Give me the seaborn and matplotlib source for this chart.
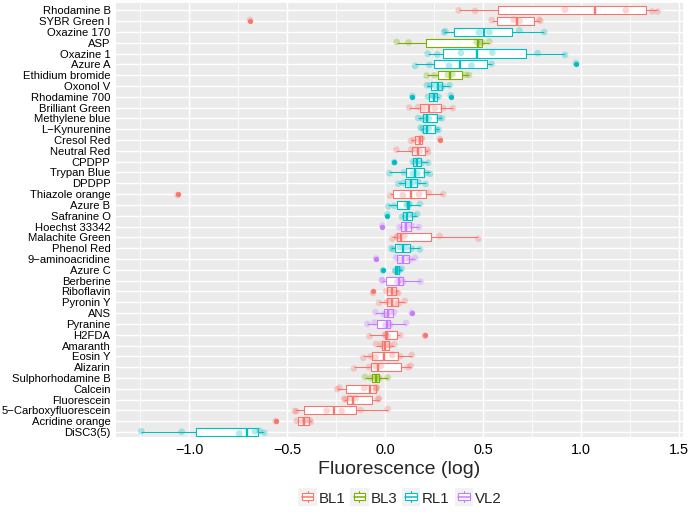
import numpy as np
import pandas as pd
import matplotlib
matplotlib.use("Agg")
import matplotlib.pyplot as plt
import seaborn as sns
from matplotlib.patches import Patch, Rectangle
from matplotlib.lines import Line2D

# dyes, top to bottom, with the detection channel of each
dyes = [
    "Rhodamine B", "SYBR Green I", "Oxazine 170", "ASP", "Oxazine 1",
    "Azure A", "Ethidium bromide", "Oxonol V", "Rhodamine 700",
    "Brilliant Green", "Methylene blue", "L\u2212Kynurenine", "Cresol Red",
    "Neutral Red", "CPDPP", "Trypan Blue", "DPDPP", "Thiazole orange",
    "Azure B", "Safranine O", "Hoechst 33342", "Malachite Green",
    "Phenol Red", "9\u2212aminoacridine", "Azure C", "Berberine",
    "Riboflavin", "Pyronin Y", "ANS", "Pyranine", "H2FDA", "Amaranth",
    "Eosin Y", "Alizarin", "Sulphorhodamine B", "Calcein", "Fluorescein",
    "5\u2212Carboxyfluorescein", "Acridine orange", "DiSC3(5)",
]
channels = [
    "BL1", "BL1", "RL1", "BL3", "RL1", "RL1", "BL3", "RL1", "RL1", "BL1",
    "RL1", "RL1", "BL1", "BL1", "RL1", "RL1", "RL1", "BL1", "RL1", "RL1",
    "VL2", "BL1", "RL1", "VL2", "RL1", "VL2", "BL1", "BL1", "VL2", "VL2",
    "BL1", "BL1", "BL1", "BL1", "BL3", "BL1", "BL1", "BL1", "BL1", "RL1",
]
# six replicate log-fluorescence readings per dye
values = [
    [0.374, 0.458, 0.917, 1.227, 1.362, 1.390],
    [-0.690, 0.543, 0.655, 0.685, 0.785, 0.791],
    [0.300, 0.306, 0.478, 0.531, 0.684, 0.811],
    [0.058, 0.119, 0.466, 0.484, 0.495, 0.531],
    [0.216, 0.265, 0.386, 0.546, 0.777, 0.917],
    [0.152, 0.225, 0.325, 0.439, 0.543, 0.973],
    [0.211, 0.250, 0.318, 0.342, 0.410, 0.427],
    [0.212, 0.228, 0.255, 0.282, 0.293, 0.328],
    [0.138, 0.218, 0.243, 0.249, 0.272, 0.334],
    [0.122, 0.168, 0.196, 0.252, 0.295, 0.345],
    [0.167, 0.190, 0.205, 0.222, 0.275, 0.290],
    [0.180, 0.188, 0.200, 0.222, 0.262, 0.272],
    [0.130, 0.145, 0.168, 0.182, 0.187, 0.279],
    [0.057, 0.133, 0.155, 0.175, 0.215, 0.219],
    [0.046, 0.140, 0.152, 0.168, 0.186, 0.219],
    [0.021, 0.095, 0.140, 0.164, 0.208, 0.228],
    [0.066, 0.092, 0.120, 0.142, 0.170, 0.206],
    [-1.059, 0.024, 0.090, 0.172, 0.221, 0.296],
    [0.015, 0.045, 0.108, 0.120, 0.123, 0.177],
    [0.010, 0.085, 0.100, 0.124, 0.143, 0.163],
    [-0.015, 0.072, 0.095, 0.115, 0.135, 0.172],
    [0.036, 0.060, 0.062, 0.098, 0.277, 0.475],
    [0.030, 0.040, 0.075, 0.105, 0.135, 0.177],
    [-0.047, 0.055, 0.080, 0.104, 0.128, 0.152],
    [-0.012, 0.050, 0.054, 0.068, 0.072, 0.084],
    [-0.018, -0.014, 0.062, 0.080, 0.092, 0.180],
    [-0.063, 0.005, 0.025, 0.041, 0.057, 0.066],
    [-0.032, 0.007, 0.020, 0.046, 0.069, 0.100],
    [-0.050, -0.008, 0.005, 0.025, 0.045, 0.135],
    [-0.092, -0.055, 0.000, 0.018, 0.025, 0.106],
    [-0.081, 0.000, 0.001, 0.013, 0.077, 0.202],
    [-0.048, -0.021, -0.010, 0.006, 0.023, 0.046],
    [-0.112, -0.075, -0.050, 0.036, 0.076, 0.135],
    [-0.160, -0.083, -0.050, -0.022, 0.117, 0.130],
    [-0.104, -0.074, -0.055, -0.039, -0.030, 0.012],
    [-0.245, -0.234, -0.107, -0.049, -0.046, -0.044],
    [-0.209, -0.203, -0.180, -0.152, -0.037, -0.032],
    [-0.461, -0.454, -0.299, -0.223, -0.126, 0.012],
    [-0.559, -0.452, -0.420, -0.410, -0.385, -0.381],
    [-1.245, -1.039, -0.745, -0.665, -0.641, -0.617],
]
channel_order = ["BL1", "BL3", "RL1", "VL2"]
palette = {"BL1": "#F8766D", "BL3": "#7CAE00", "RL1": "#00BFC4", "VL2": "#C77CFF"}
x_ticks = [-1.0, -0.5, 0.0, 0.5, 1.0, 1.5]

rows = []
for dye, ch, vals in zip(dyes, channels, values):
    for v in vals:
        rows.append((dye, ch, v))
data = pd.DataFrame(rows, columns=["Dye", "Channel", "Fluorescence"])


class BoxKey:
    # little upright boxplot glyph, like ggplot's legend key
    def legend_artist(self, legend, orig_handle, fontsize, handlebox):
        x0, y0 = handlebox.xdescent, handlebox.ydescent
        w, h = handlebox.width, handlebox.height
        c = orig_handle.get_edgecolor()
        tr = handlebox.get_transform()
        bg = Rectangle((x0 - 2.5, y0 - 2.5), w + 5, h + 5, facecolor="#F2F2F2",
                       edgecolor="none", transform=tr)
        whisk = Line2D([x0 + w / 2, x0 + w / 2], [y0, y0 + h], color=c,
                       linewidth=0.8, transform=tr)
        box = Rectangle((x0, y0 + 0.18 * h), w, 0.64 * h, facecolor="white",
                        edgecolor=c, linewidth=0.8, transform=tr)
        med = Line2D([x0, x0 + w], [y0 + h / 2, y0 + h / 2], color=c,
                     linewidth=1.1, transform=tr)
        for a in (bg, whisk, box, med):
            handlebox.add_artist(a)
        return box


sns.set_style("darkgrid")
plt.rcParams["font.family"] = ["Liberation Sans", "DejaVu Sans"]

fig = plt.figure(figsize=(6.88, 5.15), dpi=100)
ax = fig.add_axes([116 / 688, 1 - 437 / 515, 567 / 688, 434 / 515])
ax.set_facecolor("#EBEBEB")

# white box bodies underneath
sns.boxplot(data=data, x="Fluorescence", y="Dye", order=dyes, color="white",
            fill=True, width=0.75, linewidth=0, showfliers=False,
            showcaps=False, ax=ax)
# coloured outlines, whiskers, medians, outliers
sns.boxplot(data=data, x="Fluorescence", y="Dye", hue="Channel", order=dyes,
            hue_order=channel_order, palette=palette, fill=False, dodge=False,
            width=0.75, linewidth=0.8, whis=1.5, showcaps=False,
            medianprops=dict(linewidth=1.7),
            flierprops=dict(marker="o", markersize=3.8, markeredgewidth=0),
            legend=False, ax=ax)
for line in ax.lines:
    if line.get_marker() == "o":
        line.set_markerfacecolor(line.get_markeredgecolor())

np.random.seed(3)
sns.stripplot(data=data, x="Fluorescence", y="Dye", hue="Channel", order=dyes,
              hue_order=channel_order, palette=palette, dodge=False,
              jitter=0.15, size=4.8, alpha=0.3, linewidth=0, legend=False,
              ax=ax)

ax.set_xlim(-1.374, 1.519)
ax.set_ylim(39.46, -0.67)
ax.set_xticks(x_ticks)
ax.set_xticks([-1.25, -0.75, -0.25, 0.25, 0.75, 1.25], minor=True)
ax.grid(which="major", color="white", linewidth=1.07)
ax.grid(which="minor", axis="x", color="white", linewidth=0.55)
ax.set_axisbelow(True)
for s in ax.spines.values():
    s.set_visible(False)
ax.tick_params(axis="both", which="major", length=2.75, width=0.8,
               color="#333333", labelcolor="black")
ax.tick_params(axis="x", which="minor", length=0)
ax.tick_params(axis="x", labelsize=10.4, pad=1.5)
ax.tick_params(axis="y", labelsize=8.1, pad=1.2)
ax.set_xlabel("Fluorescence (log)", fontsize=14, labelpad=3)
ax.set_ylabel("")

handles = [Patch(facecolor="white", edgecolor=palette[ch]) for ch in channel_order]
fig.legend(handles, channel_order, handler_map={Patch: BoxKey()},
           loc="center", bbox_to_anchor=(401.7 / 688, 16 / 515), ncol=4,
           frameon=False, fontsize=10.8, handlelength=0.77, handleheight=0.8,
           handletextpad=0.35, columnspacing=0.55)

fig.savefig("out.png")
